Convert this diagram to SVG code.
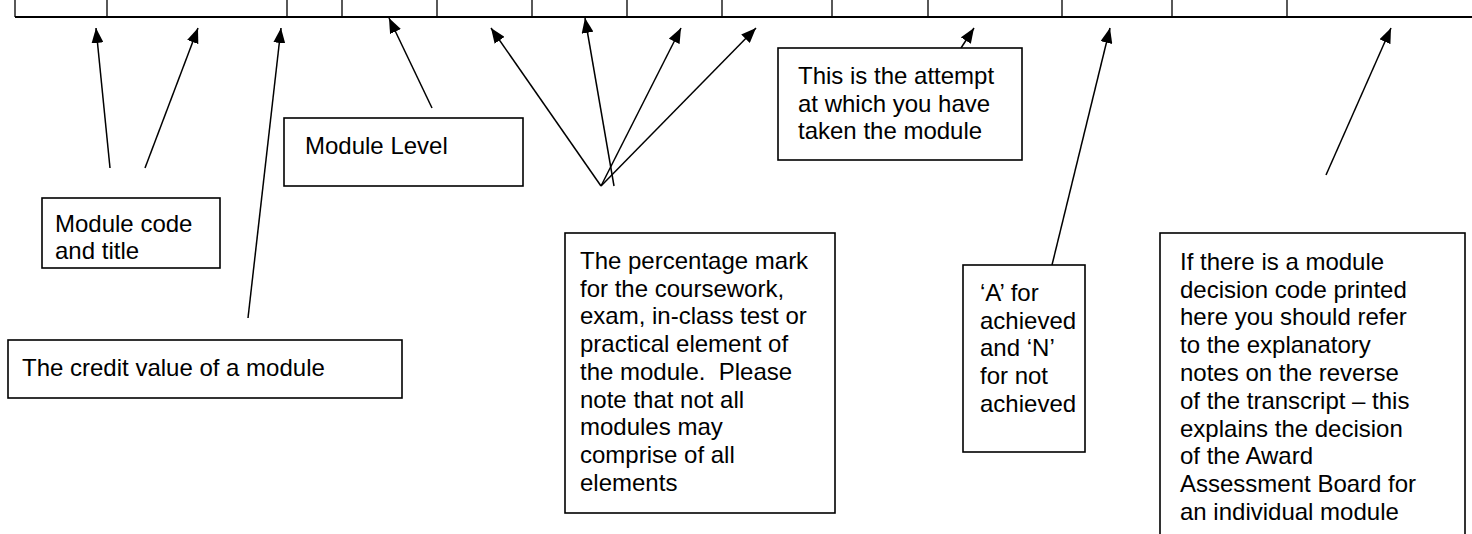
<svg xmlns="http://www.w3.org/2000/svg" width="1472" height="534" viewBox="0 0 1472 534">
<style>
.box{fill:#fff;stroke:#000;stroke-width:1.6}
.t{font-family:"Liberation Sans",Arial,sans-serif;font-size:24px;fill:#000}
.c{stroke:#000;stroke-width:1.5;fill:none;marker-end:url(#ah)}
.tl{stroke:#000;stroke-width:1.3}
</style>
<defs>
<marker id="ah" markerUnits="userSpaceOnUse" markerWidth="16" markerHeight="12" refX="15" refY="6" orient="auto">
<path d="M0,0 L15,6 L0,12 z" fill="#000"/>
</marker>
</defs>
<g id="table">
<line x1="15" y1="17" x2="1472" y2="17" stroke="#000" stroke-width="2"/>
<path class="tl" d="M15,0V17M107,0V17M287,0V17M342,0V17M437,0V17M532,0V17M627,0V17M722,0V17M832,0V17M928,0V17M1062,0V17M1172,0V17M1287,0V17"/>
</g>
<g id="connectors">
<line class="c" x1="110" y1="168" x2="96" y2="28"/>
<line class="c" x1="145" y1="168" x2="198" y2="28"/>
<line class="c" x1="248" y1="318" x2="281" y2="28"/>
<line class="c" x1="432" y1="108" x2="389" y2="18"/>
<line class="c" x1="601" y1="186" x2="491" y2="28"/>
<line class="c" x1="614" y1="186" x2="585" y2="18"/>
<line class="c" x1="601" y1="186" x2="681" y2="28"/>
<line class="c" x1="601" y1="186" x2="756" y2="28"/>
<line class="c" x1="961" y1="48" x2="974" y2="28"/>
<line class="c" x1="1052" y1="265" x2="1110" y2="28"/>
<line class="c" x1="1326" y1="175" x2="1391" y2="28"/>
</g>
<g id="code">
<rect class="box" x="42" y="198" width="178" height="70"/>
<text class="t" x="55" y="232">Module code</text>
<text class="t" x="55" y="259">and title</text>
</g>
<g id="credit">
<rect class="box" x="8" y="340" width="394" height="58"/>
<text class="t" x="22" y="376">The credit value of a module</text>
</g>
<g id="level">
<rect class="box" x="284" y="118" width="239" height="68"/>
<text class="t" x="305" y="154">Module Level</text>
</g>
<g id="percentage">
<rect class="box" x="565" y="233" width="270" height="280"/>
<text class="t" x="580" y="269">The percentage mark</text>
<text class="t" x="580" y="297">for the coursework,</text>
<text class="t" x="580" y="324">exam, in-class test or</text>
<text class="t" x="580" y="352">practical element of</text>
<text class="t" x="580" y="380" xml:space="preserve">the module.  Please</text>
<text class="t" x="580" y="408">note that not all</text>
<text class="t" x="580" y="435">modules may</text>
<text class="t" x="580" y="463">comprise of all</text>
<text class="t" x="580" y="491">elements</text>
</g>
<g id="attempt">
<rect class="box" x="778" y="48" width="244" height="112"/>
<text class="t" x="798" y="84">This is the attempt</text>
<text class="t" x="798" y="112">at which you have</text>
<text class="t" x="798" y="139">taken the module</text>
</g>
<g id="achieved">
<rect class="box" x="963" y="265" width="122" height="187"/>
<text class="t" x="980" y="301">‘A’ for</text>
<text class="t" x="980" y="329">achieved</text>
<text class="t" x="980" y="356">and ‘N’</text>
<text class="t" x="980" y="384">for not</text>
<text class="t" x="980" y="412">achieved</text>
</g>
<g id="decision">
<rect class="box" x="1160" y="233" width="305" height="320"/>
<text class="t" x="1180" y="270">If there is a module</text>
<text class="t" x="1180" y="298">decision code printed</text>
<text class="t" x="1180" y="325">here you should refer</text>
<text class="t" x="1180" y="353">to the explanatory</text>
<text class="t" x="1180" y="381">notes on the reverse</text>
<text class="t" x="1180" y="409">of the transcript – this</text>
<text class="t" x="1180" y="437">explains the decision</text>
<text class="t" x="1180" y="464">of the Award</text>
<text class="t" x="1180" y="492">Assessment Board for</text>
<text class="t" x="1180" y="520">an individual module</text>
</g>
</svg>
